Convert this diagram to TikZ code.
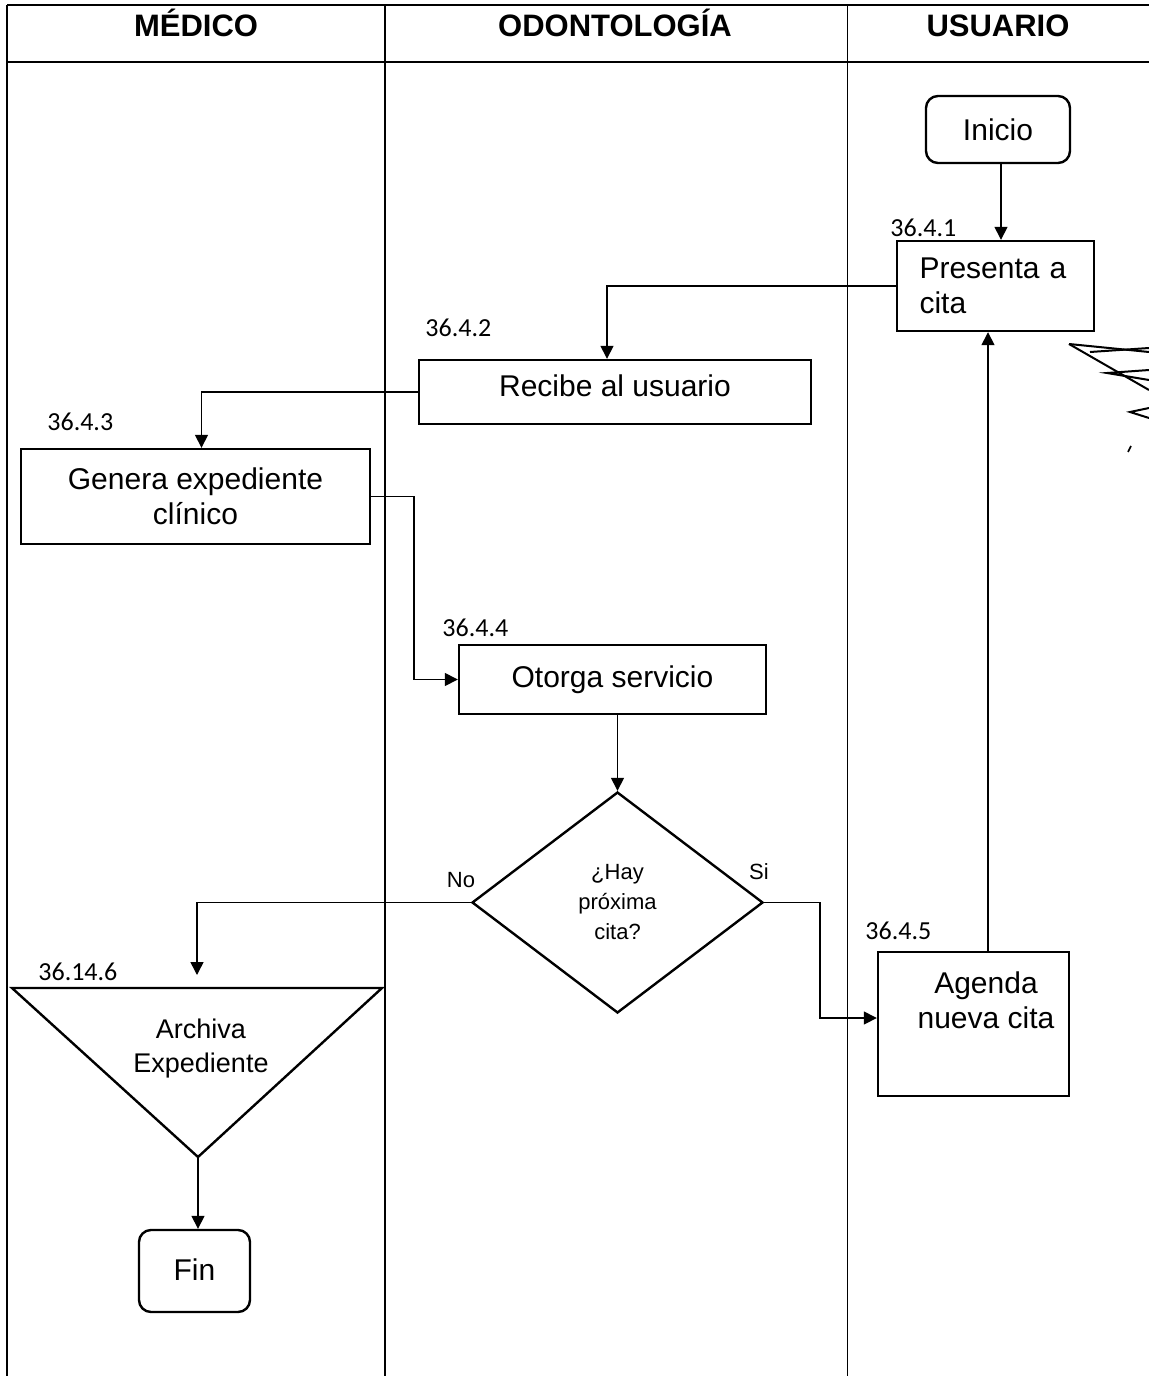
\documentclass[tikz,border=0pt]{standalone}
\usepackage{fontspec}
\setmainfont{Liberation Sans}
\newfontfamily\numfont{Carlito}
\usetikzlibrary{shapes.geometric,arrows.meta,calc}
\begin{document}
\begin{tikzpicture}[x=0.5pt,y=-0.5pt,
  frame/.style={line width=1pt},
  box/.style={draw,line width=1.2pt,inner sep=0pt,font=\fontsize{15}{17.5}\selectfont,align=center},
  rbox/.style={box,rounded corners=6pt},
  conn/.style={line width=0.75pt},
  arr/.style={conn,-{Triangle[length=6.5pt,width=6.5pt]}},
  num/.style={anchor=west,inner sep=0pt,font=\numfont\fontsize{13}{14}\selectfont},
  hdr/.style={anchor=base,font=\bfseries\fontsize{15.5}{17}\selectfont,inner sep=0pt},
  yn/.style={font=\fontsize{11}{12}\selectfont,inner sep=0pt}]
\useasboundingbox (0,0) rectangle (1149,1376);
% frame and lanes
\draw[frame] (7,5) -- (1149,5);
\draw[frame] (7,5) -- (7,1376);
\draw[frame] (7,62) -- (1149,62);
\draw[frame] (385,5) -- (385,1376);
\draw[line width=0.5pt] (847,5) -- (847,1376);
\node[hdr] (h1) at (196,36) {MÉDICO};
\node[hdr] (h2) at (615,36) {ODONTOLOGÍA};
\node[hdr] (h3) at (998,36) {USUARIO};
% nodes
\node[rbox,minimum width=72pt,minimum height=33.5pt] (inicio) at (998,129.5) {Inicio};
\node[box,minimum width=98.5pt,minimum height=45pt,text width=76pt,align=left] (presenta) at (995.5,286) {Presenta a\\cita};
\node[num] (l1) at (890,228) {36.4.1};
\node[box,minimum width=196pt,minimum height=32pt,text depth=2pt,text height=12pt] (recibe) at (615,392) {\raisebox{3pt}{Recibe al usuario}};
\node[num] (l2) at (425,328) {36.4.2};
\node[box,minimum width=174.5pt,minimum height=47.5pt] (genera) at (195.5,496.5) {Genera expediente\\clínico};
\node[num] (l3) at (47,422) {36.4.3};
\node[box,minimum width=153.5pt,minimum height=34.5pt] (otorga) at (612.5,679.5) {\raisebox{1.5pt}{Otorga servicio}};
\node[num] (l4) at (442,628) {36.4.4};
\node[draw,diamond,line width=1.2pt,inner sep=0pt,minimum width=145.5pt,minimum height=110.5pt,align=center,font=\fontsize{11}{15}\selectfont] (dia) at (617.5,902.5) {¿Hay\\próxima\\cita?};
\node[yn] (no) at (461,880) {No};
\node[yn] (si) at (759,872) {Si};
\node[box,minimum width=95.5pt,minimum height=72pt] (agenda) at (973.5,1024) {};
\node[inner sep=0pt,align=center,font=\fontsize{15}{17.5}\selectfont] (agtext) at (986,1000) {Agenda\\nueva cita};
\node[num] (l5) at (865,931) {36.4.5};
% triangle (archive)
\draw[line width=1.2pt] (12,988) -- (382,988) -- (198,1157) -- cycle;
\coordinate (tritop) at (197,988);
\coordinate (tribot) at (198,1157);
\node[inner sep=0pt,align=center,font=\fontsize{13.5}{17}\selectfont] (archiva) at (201,1049) {Archiva\\Expediente};
\node[num] (l6) at (38,972) {36.14.6};
\node[rbox,minimum width=55.5pt,minimum height=41pt] (fin) at (194.5,1271) {\raisebox{1.5pt}{Fin}};
% connectors
\coordinate (xp) at (1001,0);
\draw[arr] (inicio.south -| xp) -- (presenta.north -| xp);
\draw[arr] (presenta.west) -| ([xshift=-4pt]recibe.north);
\draw[arr] (recibe.west) -| ([xshift=3pt]genera.north);
\draw[arr] (genera.east) -- ++(21.5pt,0) |- (otorga.west);
\draw[arr] (otorga.south -| dia.north) -- (dia.north);
\draw[arr,shorten >=6.5pt] (dia.west) -| (tritop);
\draw[arr] (dia.east) -- (820,902.5) |- ([yshift=3pt]agenda.west);
\coordinate (xa) at (988,0);
\draw[arr] (agenda.north -| xa) -- (presenta.south -| xa);
\draw[arr] (tribot) -- (tribot |- fin.north);
% signature scribble
\draw[line width=1pt] (1069,344) -- (1149,390);
\draw[line width=1pt] (1069,344) -- (1149,352);
\draw[line width=1pt] (1090,352) -- (1149,348);
\draw[line width=1pt] (1149,370) -- (1107,373) -- (1149,380);
\draw[line width=1pt] (1149,408) -- (1130,412) -- (1149,418);
\draw[line width=0.8pt] (1128,452) -- (1131,446);
\end{tikzpicture}
\end{document}
